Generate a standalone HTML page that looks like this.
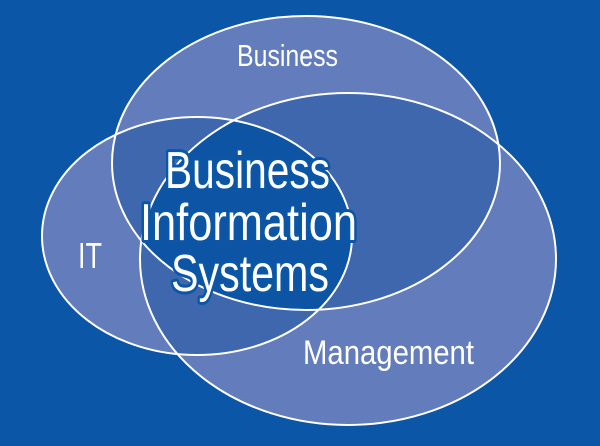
<!DOCTYPE html>
<html><head><style>body{margin:0;background:#0b56a6}svg{display:block}</style></head>
<body>
<svg width="600" height="446" viewBox="0 0 600 446" xmlns="http://www.w3.org/2000/svg">
<defs>
<clipPath id="cB"><ellipse cx="306" cy="163" rx="194" ry="147"/></clipPath>
<clipPath id="cM"><ellipse cx="348" cy="259" rx="208" ry="166"/></clipPath>
<clipPath id="cI"><ellipse cx="197" cy="236" rx="155" ry="119"/></clipPath>
</defs>
<rect width="600" height="446" fill="#0b56a6"/>
<g fill="#637cbb">
<ellipse cx="306" cy="163" rx="194" ry="147"/>
<ellipse cx="348" cy="259" rx="208" ry="166"/>
<ellipse cx="197" cy="236" rx="155" ry="119"/>
</g>
<g fill="#3f67ae">
<ellipse cx="306" cy="163" rx="194" ry="147" clip-path="url(#cM)"/>
<ellipse cx="306" cy="163" rx="194" ry="147" clip-path="url(#cI)"/>
<ellipse cx="348" cy="259" rx="208" ry="166" clip-path="url(#cI)"/>
</g>
<g clip-path="url(#cB)"><ellipse cx="348" cy="259" rx="208" ry="166" fill="#0d55a4" clip-path="url(#cI)"/></g>
<g fill="none" stroke="#fff" stroke-width="2">
<ellipse cx="306" cy="163" rx="194" ry="147"/>
<ellipse cx="348" cy="259" rx="208" ry="166"/>
<ellipse cx="197" cy="236" rx="155" ry="119"/>
</g>
<g font-family="Liberation Sans, sans-serif" fill="#fff">
<text x="237" y="66" font-size="31" textLength="101" lengthAdjust="spacingAndGlyphs">Business</text>
<text x="78" y="268" font-size="36" textLength="24" lengthAdjust="spacingAndGlyphs">IT</text>
<text x="303" y="364" font-size="34" textLength="171" lengthAdjust="spacingAndGlyphs">Management</text>
<g font-size="52" stroke="#0b56a6" stroke-width="6" paint-order="stroke" stroke-linejoin="round">
<text x="165" y="188" textLength="165" lengthAdjust="spacingAndGlyphs">Business</text>
<text x="140" y="240" textLength="217" lengthAdjust="spacingAndGlyphs">Information</text>
<text x="171" y="291" textLength="158" lengthAdjust="spacingAndGlyphs">Systems</text>
</g>
</g>
</svg>
</body></html>
